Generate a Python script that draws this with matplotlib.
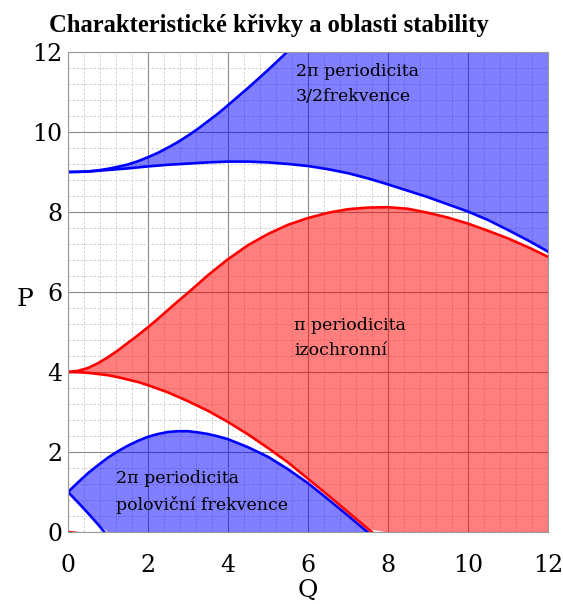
import numpy as np
import matplotlib
matplotlib.use("Agg")
import matplotlib.pyplot as plt
from matplotlib.ticker import MultipleLocator

# Q grid: quarter steps up to 4, half steps after (curves)
Q = [0, 0.25, 0.5, 0.75, 1, 1.25, 1.5, 1.75, 2, 2.25, 2.5, 2.75, 3, 3.25, 3.5,
     3.75, 4, 4.5, 5, 5.5, 6, 6.5, 7, 7.5, 8, 8.5, 9, 9.5, 10, 10.5, 11,
     11.5, 12]

Q_a0 = [0, 0.25, 0.5]
a0 = [0, -0.03, -0.12]

Q_b1 = [0, 0.25, 0.5, 0.75, 1.0]
b1 = [1.0, 0.74, 0.47, 0.19, -0.11]

Q_a1 = Q[:25]
a1 = [1.0, 1.24, 1.47, 1.67, 1.86, 2.02, 2.16, 2.28, 2.38, 2.45, 2.50, 2.52,
      2.52, 2.49, 2.45, 2.39, 2.32, 2.12, 1.88, 1.57, 1.22, 0.82, 0.41,
      -0.01, -0.42]

Q_b2 = Q[:25]
b2 = [4.0, 3.995, 3.98, 3.95, 3.92, 3.87, 3.81, 3.75, 3.67, 3.58, 3.49, 3.38,
      3.27, 3.15, 3.03, 2.89, 2.75, 2.44, 2.10, 1.74, 1.33, 0.92, 0.50,
      0.08, -0.33]

a2 = [4.0, 4.03, 4.10, 4.22, 4.37, 4.54, 4.73, 4.92, 5.12, 5.33, 5.55, 5.77,
      5.98, 6.20, 6.42, 6.62, 6.82, 7.17, 7.45, 7.68, 7.85, 7.98, 8.07, 8.11,
      8.12, 8.08, 7.98, 7.86, 7.71, 7.53, 7.34, 7.12, 6.88]

b3 = [9.0, 9.004, 9.01, 9.03, 9.05, 9.07, 9.09, 9.115, 9.14, 9.16, 9.18,
      9.195, 9.21, 9.225, 9.24, 9.25, 9.26, 9.26, 9.24, 9.20, 9.15, 9.07,
      8.97, 8.84, 8.69, 8.53, 8.37, 8.19, 8.01, 7.80, 7.55, 7.29, 7.01]

Q_a3 = Q[:21]
a3 = [9.0, 9.004, 9.016, 9.04, 9.08, 9.13, 9.19, 9.27, 9.37, 9.48, 9.61,
      9.75, 9.91, 10.08, 10.27, 10.46, 10.67, 11.10, 11.55, 12.02, 12.5]

labels = {
    "top": "2π periodicita\n3/2frekvence",
    "mid": "π periodicita\nizochronní",
    "low": "2π periodicita\npoloviční frekvence",
}

serif = ["DejaVu Serif"]

fig = plt.figure(figsize=(5.63, 6.04), dpi=100)
ax = fig.add_axes([68 / 563, 72 / 604, 480 / 563, 480 / 604])
ymin, ymax = 0, 12

q = np.array(Q)

# lower blue band (b1..a1), clipped to the visible range
lo1 = np.maximum(np.interp(q, Q_b1, b1, right=-1), ymin)
hi1 = np.maximum(np.interp(q, Q_a1, a1, right=-1), ymin)
ax.fill_between(q, lo1, hi1, where=hi1 > lo1, color="blue", alpha=0.5,
                lw=0, interpolate=True)

# red band (b2..a2)
lo2 = np.maximum(np.interp(q, Q_b2, b2, right=-1), ymin)
ax.fill_between(q, lo2, a2, color="red", alpha=0.5, lw=0)

# upper blue band (b3..a3)
hi3 = np.minimum(np.interp(q, Q_a3, a3, right=13), ymax)
ax.fill_between(q, b3, hi3, color="blue", alpha=0.5, lw=0)

lw = 1.9
ax.plot(Q_a0, a0, color="red", lw=lw)
ax.plot(Q_b1, b1, color="blue", lw=lw)
ax.plot(Q_a1, a1, color="blue", lw=lw)
ax.plot(Q_b2, b2, color="red", lw=lw)
ax.plot(Q, a2, color="red", lw=lw)
ax.plot(Q, b3, color="blue", lw=lw)
ax.plot(Q_a3, a3, color="blue", lw=lw)

ax.set_xlim(0, 12)
ax.set_ylim(ymin, ymax)
ax.xaxis.set_major_locator(MultipleLocator(2))
ax.yaxis.set_major_locator(MultipleLocator(2))
ax.xaxis.set_minor_locator(MultipleLocator(0.4))
ax.yaxis.set_minor_locator(MultipleLocator(0.4))
ax.set_axisbelow(True)
ax.grid(which="major", color="#8a8a8a", lw=0.8, ls="-")
ax.grid(which="minor", color="#cccccc", lw=0.6, ls=(0, (3, 2)))
ax.tick_params(which="both", direction="in", length=0)
ax.tick_params(axis="x", pad=16)
ax.tick_params(axis="y", pad=4)
for lab in ax.get_xticklabels() + ax.get_yticklabels():
    lab.set_fontfamily(serif)
    lab.set_fontsize(17)
for s in ax.spines.values():
    s.set_color("#9a9a9a")
    s.set_linewidth(0.8)

ax.text(5.7, 11.2, labels["top"], family=serif, fontsize=12.5,
        va="center", linespacing=1.6)
ax.text(5.65, 4.85, labels["mid"], family=serif, fontsize=12.5,
        va="center", linespacing=1.6)
ax.text(1.2, 1.0, labels["low"], family=serif, fontsize=12.5,
        va="center", linespacing=1.6)

fig.text(0.477, 0.957, "Charakteristické křivky a oblasti stability",
         family=["Liberation Serif"], fontweight="bold", fontsize=17.7,
         ha="center", va="center")
fig.text(25 / 563, 1 - 300 / 604, "P", family=serif, fontsize=18,
         ha="center", va="center")
fig.text(308 / 563, 1 - 590 / 604, "Q", family=serif, fontsize=18,
         ha="center", va="center")

fig.savefig("out.png", dpi=100)
